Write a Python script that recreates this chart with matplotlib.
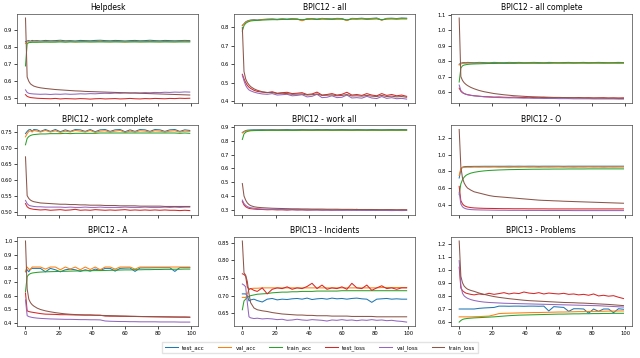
import matplotlib
matplotlib.use("Agg")
import matplotlib.pyplot as plt
from matplotlib.ticker import MultipleLocator

EPOCHS = [0, 1, 2, 3, 4, 5, 7, 9, 12, 15, 18, 21, 24, 27, 30, 33, 36, 39, 42, 45,
          48, 51, 54, 57, 60, 63, 66, 69, 72, 75, 78, 81, 84, 87, 90, 93, 96, 99]

SERIES_NAMES = ["test_acc", "val_acc", "train_acc", "test_loss", "val_loss", "train_loss"]
TITLES = ["Helpdesk", "BPIC12 - all", "BPIC12 - all complete",
          "BPIC12 - work complete", "BPIC12 - work all", "BPIC12 - O",
          "BPIC12 - A", "BPIC13 - Incidents", "BPIC13 - Problems"]
Y_STEPS = [0.1, 0.1, 0.1, 0.05, 0.1, 0.2, 0.1, 0.05, 0.1]

# ---------------- Helpdesk ----------------
helpdesk_test_acc = [0.832,0.836,0.838,0.835,0.839,0.837,0.838,0.836,0.839,0.837,0.838,0.840,0.837,0.838,0.836,0.839,0.838,0.837,0.839,0.840,0.838,0.837,0.839,0.838,0.836,0.838,0.839,0.837,0.838,0.840,0.838,0.837,0.839,0.838,0.837,0.838,0.839,0.838]
helpdesk_val_acc = [0.822,0.830,0.832,0.829,0.833,0.831,0.832,0.830,0.833,0.831,0.832,0.834,0.831,0.833,0.830,0.832,0.833,0.831,0.832,0.834,0.832,0.831,0.833,0.832,0.830,0.832,0.833,0.831,0.832,0.833,0.832,0.831,0.833,0.832,0.831,0.833,0.834,0.833]
helpdesk_train_acc = [0.690,0.820,0.826,0.827,0.828,0.828,0.828,0.829,0.829,0.829,0.829,0.830,0.829,0.830,0.830,0.830,0.830,0.830,0.830,0.830,0.830,0.830,0.830,0.830,0.830,0.830,0.830,0.830,0.830,0.830,0.830,0.830,0.830,0.830,0.830,0.830,0.830,0.830]
helpdesk_test_loss = [0.522,0.512,0.508,0.505,0.504,0.503,0.501,0.500,0.499,0.498,0.500,0.497,0.499,0.498,0.497,0.499,0.498,0.496,0.498,0.499,0.497,0.498,0.499,0.497,0.498,0.500,0.498,0.497,0.499,0.498,0.500,0.499,0.498,0.500,0.499,0.501,0.500,0.501]
helpdesk_val_loss = [0.550,0.535,0.530,0.528,0.527,0.526,0.525,0.524,0.525,0.523,0.525,0.524,0.526,0.524,0.525,0.527,0.526,0.528,0.527,0.529,0.530,0.529,0.531,0.530,0.532,0.531,0.533,0.532,0.534,0.533,0.535,0.534,0.536,0.535,0.537,0.536,0.538,0.537]
helpdesk_train_loss = [0.970,0.625,0.600,0.585,0.578,0.572,0.566,0.562,0.558,0.555,0.552,0.550,0.548,0.546,0.544,0.543,0.541,0.540,0.539,0.538,0.537,0.536,0.535,0.534,0.533,0.532,0.531,0.530,0.529,0.528,0.527,0.526,0.525,0.524,0.523,0.522,0.521,0.520]

# ---------------- BPIC12 - all ----------------
all_test_acc = [0.810,0.820,0.830,0.835,0.838,0.840,0.842,0.840,0.843,0.845,0.846,0.844,0.847,0.845,0.848,0.846,0.838,0.847,0.848,0.845,0.849,0.847,0.846,0.849,0.848,0.838,0.849,0.848,0.850,0.847,0.849,0.851,0.840,0.849,0.850,0.848,0.851,0.850]
all_val_acc = [0.812,0.818,0.828,0.832,0.836,0.838,0.840,0.838,0.842,0.843,0.845,0.842,0.846,0.843,0.846,0.845,0.836,0.846,0.847,0.843,0.848,0.845,0.844,0.847,0.846,0.837,0.848,0.846,0.848,0.845,0.847,0.849,0.839,0.848,0.848,0.846,0.849,0.848]
all_train_acc = [0.780,0.810,0.822,0.828,0.832,0.835,0.837,0.838,0.840,0.841,0.842,0.842,0.843,0.843,0.844,0.844,0.842,0.844,0.845,0.843,0.845,0.845,0.844,0.845,0.845,0.841,0.845,0.845,0.846,0.844,0.845,0.846,0.842,0.845,0.846,0.845,0.846,0.846]
all_test_loss = [0.545,0.520,0.500,0.485,0.475,0.468,0.458,0.452,0.448,0.445,0.450,0.442,0.445,0.447,0.440,0.442,0.445,0.435,0.438,0.448,0.432,0.435,0.440,0.432,0.436,0.447,0.432,0.435,0.430,0.440,0.432,0.428,0.440,0.430,0.435,0.428,0.432,0.425]
all_val_loss = [0.540,0.510,0.485,0.470,0.460,0.455,0.448,0.443,0.438,0.436,0.440,0.432,0.434,0.436,0.428,0.430,0.434,0.422,0.425,0.436,0.418,0.420,0.428,0.418,0.420,0.432,0.416,0.418,0.415,0.425,0.416,0.413,0.424,0.414,0.418,0.412,0.414,0.410]
all_train_loss = [0.800,0.560,0.520,0.500,0.488,0.478,0.466,0.458,0.450,0.446,0.446,0.440,0.442,0.440,0.436,0.437,0.438,0.432,0.434,0.438,0.430,0.431,0.433,0.428,0.430,0.435,0.427,0.428,0.426,0.430,0.426,0.424,0.430,0.424,0.426,0.422,0.424,0.420]

# ---------------- BPIC12 - all complete ----------------
allc_test_acc = [0.780,0.787,0.790,0.791,0.790,0.792,0.791,0.790,0.792,0.791,0.790,0.792,0.791,0.790,0.792,0.791,0.792,0.790,0.791,0.792,0.791,0.790,0.792,0.791,0.790,0.791,0.792,0.790,0.791,0.792,0.790,0.791,0.792,0.791,0.790,0.791,0.792,0.791]
allc_val_acc = [0.775,0.782,0.785,0.786,0.786,0.787,0.787,0.786,0.788,0.787,0.788,0.787,0.788,0.786,0.788,0.787,0.788,0.787,0.788,0.788,0.787,0.788,0.787,0.788,0.788,0.787,0.788,0.787,0.788,0.788,0.787,0.788,0.788,0.787,0.788,0.788,0.787,0.788]
allc_train_acc = [0.665,0.755,0.770,0.775,0.777,0.779,0.781,0.782,0.783,0.784,0.785,0.785,0.786,0.786,0.786,0.786,0.787,0.787,0.787,0.787,0.787,0.787,0.787,0.788,0.788,0.788,0.788,0.788,0.788,0.788,0.788,0.788,0.788,0.788,0.788,0.788,0.788,0.788]
allc_test_loss = [0.625,0.605,0.595,0.590,0.586,0.583,0.579,0.576,0.573,0.570,0.569,0.567,0.568,0.566,0.565,0.567,0.565,0.564,0.566,0.564,0.563,0.565,0.563,0.564,0.562,0.564,0.563,0.562,0.564,0.562,0.563,0.561,0.562,0.563,0.561,0.562,0.561,0.562]
allc_val_loss = [0.645,0.610,0.598,0.590,0.585,0.582,0.578,0.575,0.572,0.569,0.567,0.565,0.564,0.563,0.562,0.562,0.561,0.560,0.560,0.559,0.559,0.558,0.558,0.558,0.557,0.557,0.557,0.556,0.556,0.556,0.556,0.555,0.555,0.555,0.555,0.555,0.554,0.554]
allc_train_loss = [1.080,0.700,0.675,0.660,0.650,0.642,0.630,0.621,0.610,0.602,0.596,0.590,0.586,0.582,0.579,0.576,0.574,0.572,0.570,0.569,0.568,0.567,0.566,0.565,0.565,0.564,0.563,0.563,0.562,0.562,0.561,0.561,0.561,0.560,0.560,0.560,0.559,0.559]

# ---------------- BPIC12 - work complete ----------------
wc_test_acc = [0.745,0.752,0.757,0.758,0.752,0.758,0.757,0.752,0.758,0.752,0.758,0.751,0.757,0.752,0.758,0.757,0.752,0.758,0.751,0.757,0.758,0.752,0.757,0.758,0.751,0.757,0.752,0.758,0.757,0.752,0.758,0.757,0.752,0.757,0.758,0.752,0.757,0.755]
wc_val_acc = [0.735,0.745,0.752,0.754,0.750,0.755,0.753,0.750,0.755,0.750,0.754,0.749,0.753,0.750,0.755,0.753,0.750,0.755,0.749,0.753,0.754,0.750,0.753,0.755,0.749,0.753,0.750,0.754,0.753,0.750,0.754,0.753,0.750,0.753,0.754,0.750,0.753,0.752]
wc_train_acc = [0.710,0.730,0.736,0.739,0.741,0.742,0.743,0.744,0.744,0.745,0.745,0.745,0.746,0.745,0.746,0.746,0.746,0.746,0.746,0.747,0.747,0.747,0.747,0.747,0.747,0.747,0.747,0.747,0.747,0.747,0.747,0.747,0.747,0.747,0.747,0.746,0.747,0.746]
wc_test_loss = [0.525,0.515,0.511,0.509,0.508,0.507,0.506,0.505,0.506,0.504,0.505,0.506,0.504,0.505,0.507,0.504,0.505,0.504,0.506,0.505,0.504,0.505,0.504,0.505,0.506,0.504,0.505,0.504,0.505,0.504,0.505,0.504,0.505,0.504,0.504,0.503,0.504,0.503]
wc_val_loss = [0.535,0.525,0.520,0.518,0.517,0.516,0.515,0.515,0.514,0.514,0.514,0.514,0.513,0.514,0.513,0.513,0.514,0.513,0.513,0.514,0.513,0.513,0.513,0.513,0.514,0.513,0.513,0.513,0.514,0.513,0.513,0.513,0.514,0.513,0.514,0.513,0.514,0.514]
wc_train_loss = [0.672,0.550,0.541,0.536,0.533,0.531,0.529,0.527,0.526,0.525,0.524,0.523,0.523,0.522,0.522,0.521,0.521,0.520,0.520,0.520,0.519,0.519,0.519,0.518,0.518,0.518,0.518,0.517,0.517,0.517,0.517,0.517,0.516,0.516,0.516,0.516,0.516,0.516]

# ---------------- BPIC12 - work all ----------------
wa_test_acc = [0.860,0.868,0.874,0.877,0.878,0.879,0.880,0.880,0.881,0.880,0.881,0.880,0.881,0.882,0.880,0.881,0.882,0.881,0.880,0.882,0.881,0.882,0.880,0.881,0.882,0.881,0.880,0.882,0.881,0.880,0.882,0.881,0.880,0.881,0.882,0.881,0.882,0.881]
wa_val_acc = [0.858,0.865,0.870,0.873,0.874,0.875,0.876,0.876,0.877,0.876,0.877,0.877,0.877,0.877,0.876,0.877,0.877,0.877,0.876,0.877,0.877,0.877,0.876,0.877,0.877,0.877,0.876,0.877,0.877,0.876,0.877,0.877,0.876,0.877,0.877,0.877,0.877,0.877]
wa_train_acc = [0.810,0.850,0.862,0.868,0.871,0.873,0.874,0.875,0.875,0.876,0.876,0.876,0.876,0.876,0.876,0.876,0.877,0.877,0.877,0.877,0.877,0.877,0.877,0.877,0.877,0.877,0.877,0.877,0.877,0.877,0.877,0.877,0.877,0.877,0.877,0.877,0.877,0.877]
wa_test_loss = [0.360,0.335,0.322,0.315,0.310,0.308,0.305,0.303,0.302,0.300,0.301,0.299,0.300,0.298,0.301,0.299,0.300,0.298,0.299,0.300,0.298,0.299,0.297,0.299,0.298,0.300,0.298,0.303,0.297,0.299,0.298,0.300,0.297,0.299,0.298,0.297,0.299,0.298]
wa_val_loss = [0.370,0.345,0.332,0.323,0.318,0.315,0.311,0.308,0.305,0.304,0.303,0.302,0.301,0.300,0.300,0.299,0.299,0.298,0.298,0.298,0.297,0.297,0.297,0.296,0.296,0.296,0.296,0.295,0.296,0.295,0.295,0.295,0.295,0.295,0.294,0.295,0.294,0.295]
wa_train_loss = [0.490,0.400,0.370,0.350,0.338,0.330,0.322,0.318,0.315,0.313,0.311,0.310,0.309,0.308,0.307,0.307,0.306,0.306,0.305,0.305,0.305,0.304,0.304,0.304,0.303,0.303,0.303,0.302,0.302,0.302,0.302,0.301,0.301,0.301,0.301,0.300,0.300,0.300]

# ---------------- BPIC12 - O ----------------
o_test_acc = [0.720,0.820,0.850,0.855,0.857,0.858,0.858,0.859,0.859,0.860,0.860,0.860,0.860,0.860,0.861,0.860,0.861,0.860,0.861,0.861,0.860,0.861,0.861,0.861,0.861,0.860,0.861,0.861,0.861,0.861,0.861,0.861,0.861,0.861,0.861,0.861,0.861,0.861]
o_val_acc = [0.750,0.835,0.845,0.847,0.848,0.849,0.848,0.850,0.849,0.850,0.849,0.851,0.849,0.850,0.848,0.850,0.849,0.851,0.849,0.850,0.848,0.850,0.849,0.850,0.851,0.849,0.850,0.848,0.850,0.849,0.851,0.849,0.850,0.848,0.850,0.849,0.850,0.850]
o_train_acc = [0.520,0.650,0.700,0.730,0.750,0.762,0.778,0.788,0.798,0.805,0.810,0.813,0.816,0.818,0.820,0.821,0.822,0.823,0.824,0.825,0.825,0.826,0.826,0.827,0.827,0.827,0.828,0.828,0.828,0.828,0.829,0.829,0.829,0.829,0.829,0.829,0.829,0.829]
o_test_loss = [0.620,0.450,0.410,0.390,0.380,0.373,0.366,0.362,0.359,0.357,0.356,0.355,0.354,0.353,0.353,0.352,0.352,0.352,0.351,0.351,0.351,0.351,0.350,0.350,0.350,0.350,0.350,0.350,0.350,0.350,0.350,0.350,0.350,0.350,0.350,0.350,0.350,0.350]
o_val_loss = [0.550,0.410,0.375,0.360,0.352,0.347,0.342,0.340,0.338,0.337,0.336,0.335,0.334,0.334,0.333,0.333,0.333,0.332,0.332,0.332,0.332,0.331,0.331,0.331,0.331,0.331,0.331,0.330,0.330,0.330,0.330,0.330,0.330,0.330,0.330,0.330,0.330,0.330]
o_train_loss = [1.300,0.850,0.720,0.660,0.625,0.600,0.575,0.555,0.540,0.525,0.510,0.500,0.495,0.490,0.485,0.480,0.475,0.470,0.465,0.460,0.455,0.452,0.450,0.447,0.445,0.442,0.440,0.438,0.436,0.434,0.432,0.430,0.428,0.426,0.424,0.422,0.420,0.418]

# ---------------- BPIC12 - A ----------------
a_test_acc = [0.775,0.790,0.775,0.795,0.800,0.800,0.800,0.800,0.775,0.800,0.790,0.775,0.790,0.795,0.790,0.778,0.790,0.780,0.795,0.785,0.800,0.800,0.780,0.800,0.802,0.803,0.778,0.803,0.804,0.804,0.805,0.805,0.805,0.805,0.778,0.806,0.806,0.806]
a_val_acc = [0.780,0.810,0.795,0.790,0.810,0.810,0.810,0.810,0.795,0.810,0.810,0.790,0.810,0.795,0.810,0.790,0.810,0.792,0.810,0.790,0.810,0.810,0.795,0.810,0.810,0.810,0.795,0.810,0.810,0.810,0.810,0.810,0.810,0.810,0.810,0.810,0.810,0.810]
a_train_acc = [0.630,0.740,0.755,0.762,0.766,0.768,0.771,0.773,0.775,0.776,0.777,0.778,0.779,0.780,0.781,0.782,0.783,0.783,0.784,0.784,0.785,0.786,0.787,0.788,0.789,0.789,0.790,0.790,0.791,0.791,0.792,0.792,0.793,0.793,0.794,0.794,0.795,0.795]
a_test_loss = [0.620,0.490,0.485,0.482,0.480,0.478,0.474,0.470,0.466,0.465,0.464,0.462,0.462,0.461,0.460,0.460,0.459,0.460,0.458,0.458,0.452,0.451,0.451,0.450,0.450,0.449,0.449,0.448,0.448,0.448,0.447,0.447,0.446,0.446,0.445,0.445,0.445,0.444]
a_val_loss = [0.570,0.455,0.448,0.445,0.442,0.440,0.437,0.435,0.433,0.431,0.430,0.429,0.428,0.428,0.427,0.426,0.426,0.425,0.425,0.424,0.416,0.414,0.413,0.412,0.412,0.411,0.411,0.410,0.410,0.410,0.410,0.409,0.409,0.409,0.409,0.408,0.408,0.408]
a_train_loss = [1.000,0.650,0.575,0.550,0.535,0.525,0.510,0.500,0.490,0.483,0.477,0.472,0.468,0.465,0.463,0.461,0.460,0.459,0.458,0.457,0.456,0.455,0.454,0.453,0.452,0.451,0.450,0.449,0.448,0.447,0.447,0.446,0.446,0.445,0.445,0.444,0.444,0.443]

# ---------------- BPIC13 - Incidents ----------------
inc_test_acc = [0.705,0.705,0.705,0.700,0.685,0.688,0.690,0.686,0.682,0.690,0.692,0.688,0.690,0.689,0.691,0.692,0.690,0.693,0.689,0.691,0.692,0.690,0.693,0.691,0.692,0.690,0.692,0.693,0.691,0.690,0.681,0.690,0.691,0.692,0.690,0.691,0.690,0.690]
inc_val_acc = [0.695,0.695,0.694,0.705,0.718,0.720,0.721,0.721,0.722,0.722,0.722,0.722,0.722,0.722,0.722,0.722,0.722,0.722,0.722,0.722,0.722,0.722,0.722,0.722,0.722,0.722,0.722,0.722,0.722,0.722,0.722,0.722,0.723,0.723,0.723,0.723,0.723,0.723]
inc_train_acc = [0.660,0.685,0.690,0.695,0.698,0.700,0.702,0.704,0.705,0.706,0.708,0.709,0.710,0.710,0.711,0.711,0.712,0.712,0.712,0.713,0.713,0.713,0.713,0.713,0.714,0.714,0.714,0.714,0.714,0.714,0.714,0.714,0.714,0.714,0.714,0.714,0.714,0.714]
inc_test_loss = [0.762,0.760,0.755,0.725,0.718,0.720,0.715,0.712,0.722,0.705,0.718,0.722,0.720,0.725,0.718,0.722,0.720,0.726,0.735,0.720,0.730,0.718,0.722,0.720,0.725,0.718,0.735,0.722,0.720,0.730,0.715,0.722,0.728,0.720,0.722,0.718,0.722,0.722]
inc_val_loss = [0.733,0.730,0.725,0.680,0.640,0.637,0.635,0.636,0.634,0.635,0.634,0.632,0.633,0.630,0.631,0.633,0.631,0.630,0.632,0.631,0.630,0.628,0.631,0.630,0.632,0.630,0.631,0.629,0.631,0.630,0.632,0.630,0.631,0.629,0.630,0.628,0.627,0.625]
inc_train_loss = [0.855,0.765,0.758,0.740,0.705,0.680,0.665,0.660,0.657,0.655,0.652,0.650,0.648,0.647,0.646,0.645,0.645,0.644,0.644,0.643,0.643,0.643,0.642,0.642,0.642,0.642,0.641,0.641,0.641,0.641,0.641,0.640,0.640,0.640,0.640,0.640,0.640,0.640]

# ---------------- BPIC13 - Problems ----------------
prob_test_acc = [0.700,0.700,0.700,0.700,0.700,0.700,0.700,0.700,0.705,0.708,0.710,0.712,0.722,0.722,0.721,0.722,0.722,0.721,0.722,0.722,0.721,0.722,0.685,0.718,0.715,0.712,0.682,0.702,0.702,0.700,0.668,0.700,0.682,0.700,0.700,0.672,0.702,0.698]
prob_val_acc = [0.640,0.640,0.640,0.640,0.640,0.640,0.640,0.641,0.642,0.644,0.646,0.655,0.665,0.667,0.668,0.669,0.670,0.671,0.672,0.673,0.673,0.674,0.675,0.676,0.677,0.677,0.678,0.679,0.680,0.680,0.681,0.682,0.682,0.683,0.684,0.684,0.685,0.685]
prob_train_acc = [0.600,0.612,0.620,0.624,0.626,0.628,0.630,0.632,0.634,0.636,0.638,0.640,0.643,0.646,0.649,0.651,0.653,0.654,0.655,0.656,0.657,0.658,0.659,0.660,0.661,0.661,0.662,0.663,0.663,0.664,0.664,0.665,0.665,0.666,0.666,0.667,0.667,0.667]
prob_test_loss = [1.020,0.860,0.840,0.830,0.822,0.818,0.812,0.808,0.815,0.810,0.820,0.812,0.818,0.825,0.815,0.822,0.818,0.830,0.822,0.818,0.825,0.815,0.822,0.818,0.815,0.820,0.812,0.815,0.808,0.812,0.805,0.815,0.800,0.805,0.798,0.802,0.790,0.780]
prob_val_loss = [1.070,0.880,0.820,0.800,0.790,0.782,0.772,0.765,0.758,0.753,0.750,0.748,0.746,0.744,0.743,0.742,0.741,0.740,0.739,0.738,0.737,0.736,0.735,0.734,0.733,0.732,0.731,0.730,0.729,0.728,0.727,0.726,0.725,0.723,0.721,0.719,0.717,0.715]
prob_train_loss = [1.220,0.950,0.900,0.875,0.862,0.852,0.842,0.835,0.822,0.812,0.803,0.795,0.789,0.784,0.779,0.775,0.771,0.767,0.764,0.762,0.760,0.758,0.756,0.754,0.752,0.750,0.749,0.748,0.746,0.745,0.743,0.741,0.739,0.737,0.735,0.732,0.729,0.726]

PANELS = [
    [helpdesk_test_acc, helpdesk_val_acc, helpdesk_train_acc, helpdesk_test_loss, helpdesk_val_loss, helpdesk_train_loss],
    [all_test_acc, all_val_acc, all_train_acc, all_test_loss, all_val_loss, all_train_loss],
    [allc_test_acc, allc_val_acc, allc_train_acc, allc_test_loss, allc_val_loss, allc_train_loss],
    [wc_test_acc, wc_val_acc, wc_train_acc, wc_test_loss, wc_val_loss, wc_train_loss],
    [wa_test_acc, wa_val_acc, wa_train_acc, wa_test_loss, wa_val_loss, wa_train_loss],
    [o_test_acc, o_val_acc, o_train_acc, o_test_loss, o_val_loss, o_train_loss],
    [a_test_acc, a_val_acc, a_train_acc, a_test_loss, a_val_loss, a_train_loss],
    [inc_test_acc, inc_val_acc, inc_train_acc, inc_test_loss, inc_val_loss, inc_train_loss],
    [prob_test_acc, prob_val_acc, prob_train_acc, prob_test_loss, prob_val_loss, prob_train_loss],
]

COLORS = ["#1f77b4", "#ff7f0e", "#2ca02c", "#d62728", "#9467bd", "#8c564b"]

fig, axes = plt.subplots(3, 3, figsize=(6.4, 3.58), dpi=100, sharex=True)
fig.subplots_adjust(left=0.027, right=0.987, top=0.961, bottom=0.089,
                    wspace=0.20, hspace=0.25)

handles = []
for ax, title, series, ystep in zip(axes.flat, TITLES, PANELS, Y_STEPS):
    hs = []
    for name, vals, col in zip(SERIES_NAMES, series, COLORS):
        h, = ax.plot(EPOCHS, vals, color=col, lw=0.75, label=name)
        hs.append(h)
    if not handles:
        handles = hs
    ax.set_title(title, fontsize=5.5, pad=2.5)
    ax.yaxis.set_major_locator(MultipleLocator(ystep))
    ax.set_xticks([0, 20, 40, 60, 80, 100])
    ax.tick_params(labelsize=3.8, length=2, width=0.5, pad=1.5)
    for sp in ax.spines.values():
        sp.set_linewidth(0.5)
        sp.set_color("#444444")

fig.legend(handles, SERIES_NAMES, loc="lower center", bbox_to_anchor=(0.5, 0.005),
           ncol=6, fontsize=4, frameon=True, handlelength=2.3, columnspacing=2.4,
           borderpad=0.5, handletextpad=0.8, edgecolor="#dddddd", fancybox=False)

fig.savefig("out.png", dpi=100)
